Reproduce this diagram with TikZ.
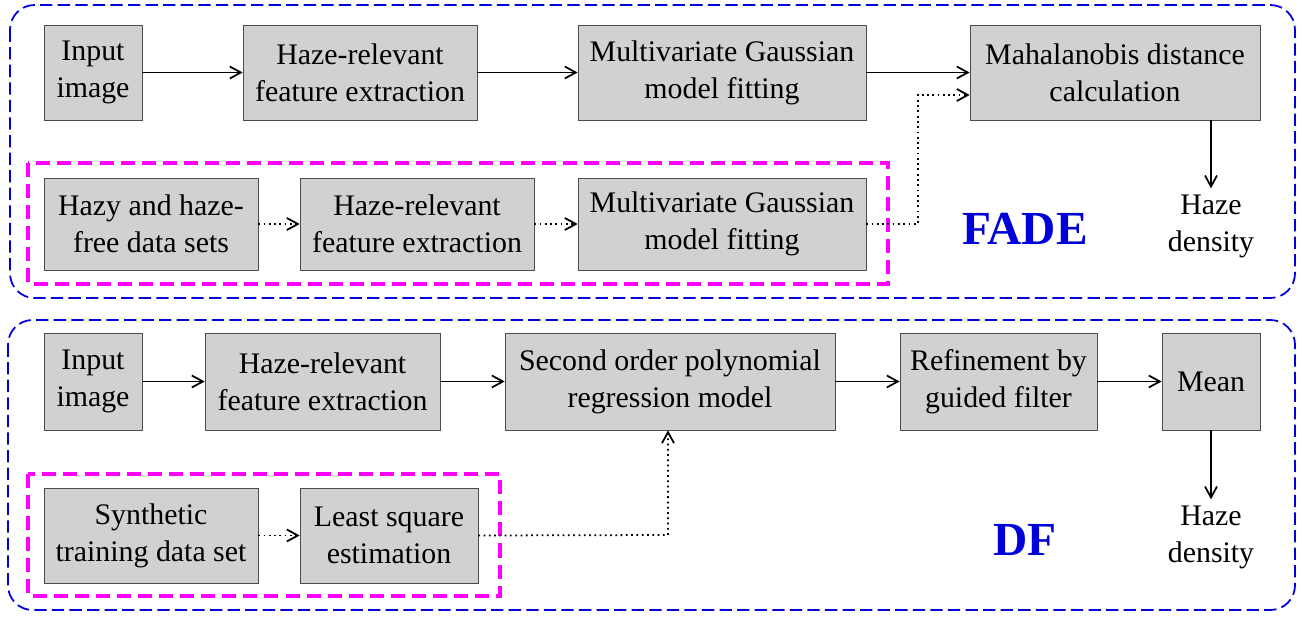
\documentclass[tikz,border=0pt]{standalone}
\usepackage{fontspec}
\setmainfont{Liberation Serif}
\usetikzlibrary{arrows.meta}
\definecolor{mgn}{RGB}{255,0,255}
\begin{document}
\begin{tikzpicture}[x=0.02cm,y=-0.02cm,
  box/.style={draw=black!70,fill=black!18,align=center,inner sep=0pt,font=\fontsize{17}{21}\selectfont},
  lbl/.style={align=center,font=\fontsize{17}{21}\selectfont},
  arr/.style={-{Straight Barb[length=2.2mm,width=2.4mm]},line width=1pt},
  dot/.style={arr,dotted,line width=1pt},
  panel/.style={draw=blue!85!black,rounded corners=14pt,line width=1pt,dash pattern=on 7pt off 3pt},
  mag/.style={draw=mgn,line width=2.2pt,dash pattern=on 8pt off 4pt},
  big/.style={text=blue!85!black,font=\fontsize{27}{30}\selectfont\bfseries}]
\useasboundingbox (0,0) rectangle (1302,618);
\newcommand\bx[6]{\node[box,minimum width=(#3-#2)*0.02cm,minimum height=(#5-#4)*0.02cm] (#1) at ({(#2+#3)/2},{(#4+#5)/2}) {#6};}
% top panel
\draw[panel] (10,5) rectangle (1295,298);
\draw[mag] (28,163) rectangle (888,284);
\bx{a1}{44}{142}{25}{120}{Input\\image}
\bx{a2}{243}{477}{25}{120}{Haze-relevant\\feature extraction}
\bx{a3}{578}{866}{25}{120}{Multivariate Gaussian\\model fitting}
\bx{a4}{970}{1260}{25}{120}{Mahalanobis distance\\calculation}
\bx{b1}{44}{258}{178}{270}{Hazy and haze-\\free data sets}
\bx{b2}{300}{534}{178}{270}{Haze-relevant\\feature extraction}
\bx{b3}{578}{866}{178}{270}{Multivariate Gaussian\\model fitting}
\node[lbl] (hd1) at (1211,226) {Haze\\density};
\node[big] (fade) at (1025,229) {FADE};
\draw[arr] (a1) -- (a2);
\draw[arr] (a2) -- (a3);
\draw[arr] (a3) -- (a4);
\draw[arr] (a4.south -| hd1) -- (hd1.north);
\draw[dot] (b1) -- (b2);
\draw[dot] (b2) -- (b3);
\coordinate (t1) at (918,95);
\draw[dot] (b3.east) -| (t1) -- (t1 -| a4.west);
% bottom panel
\draw[panel] (8,320) rectangle (1295,610);
\draw[mag] (28,474) rectangle (500,596);
\bx{c1}{44}{142}{333}{430}{Input\\image}
\bx{c2}{205}{440}{333}{430}{Haze-relevant\\feature extraction}
\bx{c3}{505}{835}{333}{430}{Second order polynomial\\regression model}
\bx{c4}{900}{1097}{333}{430}{Refinement by\\guided filter}
\bx{c5}{1162}{1260}{333}{430}{Mean}
\bx{d1}{44}{258}{488}{583}{Synthetic\\training data set}
\bx{d2}{300}{478}{488}{583}{Least square\\estimation}
\node[lbl] (hd2) at (1211,537) {Haze\\density};
\node[big] (df) at (1025,540) {DF};
\draw[arr] (c1) -- (c2);
\draw[arr] (c2) -- (c3);
\draw[arr] (c3) -- (c4);
\draw[arr] (c4) -- (c5);
\draw[arr] (c5.south -| hd2) -- (hd2.north);
\draw[dot] (d1) -- (d2);
\coordinate (t2) at (668,535);
\draw[dot] (d2.east) -- (t2) -- (t2 |- c3.south);
\end{tikzpicture}
\end{document}
